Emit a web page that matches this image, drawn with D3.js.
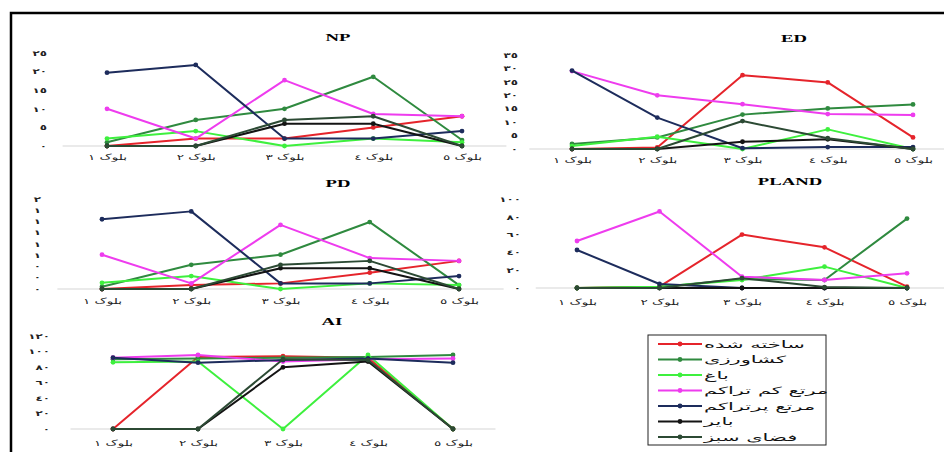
<!DOCTYPE html>
<html><head><meta charset="utf-8">
<script src="https://cdn.jsdelivr.net/npm/d3@7"></script>
<style>
html,body{margin:0;padding:0;background:#fff;}
svg{display:block;}
text{font-family:"DejaVu Sans",sans-serif;}
</style></head>
<body>
<svg id="chart" width="944" height="452"></svg>
<script>
// ---------------- DATA ----------------
const categories = ["بلوک ١","بلوک ٢","بلوک ٣","بلوک ٤","بلوک ٥"];
const seriesNames = ["ساخته شده","کشاورزی","باغ","مرتع کم تراکم","مرتع پرتراکم","بایر","فضای سبز"];
const seriesColors = ["#e5242b","#2f8a3f","#3ef03e","#ee3cee","#1d2c5c","#141414","#2c4a34"];

// values per series (same order as seriesNames), one value per block
const npValues = [
  [0,2,2,5,8],
  [1,7,10,18.6,1.6],
  [2,4,0,2,1],
  [10,2,17.7,8.6,8],
  [19.7,21.8,2,2,4],
  [0,0,6,6,0],
  [0,0,7,8,0]
];
const edValues = [
  [0,0.6,27.5,24.8,4.3],
  [1.9,4.3,12.8,15.1,16.6],
  [1.1,4.6,0,7.3,0],
  [29,20,16.7,13,12.7],
  [29.2,11.7,0.3,0.7,0.7],
  [0,0,2.7,3.6,0],
  [0,0,10.4,4,0]
];
const pdValues = [
  [0,0.07,0.1,0.29,0.5],
  [0.04,0.43,0.61,1.19,0.07],
  [0.11,0.23,0,0.1,0.07],
  [0.61,0.1,1.14,0.55,0.5],
  [1.24,1.38,0.1,0.1,0.23],
  [0,0,0.37,0.37,0],
  [0,0,0.43,0.5,0]
];
const plandValues = [
  [0,1.5,60,45.7,1.5],
  [0,1,10,9,78],
  [0,1.5,9,24,0],
  [52.8,86,12.7,9,16.5],
  [42.7,4.5,0,0,0],
  [0,0,0,0,0],
  [0,0,11,1,0]
];
const aiValues = [
  [0,93,94,92,0],
  [90,91,92,93,95.5],
  [86,87,0,95.5,0],
  [92,95.5,87,90,91],
  [92,85.6,89,91,85.6],
  [0,0,79.6,87,0],
  [0,0,90,89,0]
];

const npTicks = [0,5,10,15,20,25];
const edTicks = [0,5,10,15,20,25,30,35];
const pdTicks = [0,0.2,0.4,0.6,0.8,1.0,1.2,1.4,1.6];
const plandTicks = [0,20,40,60,80,100];
const aiTicks = [0,20,40,60,80,100,120];

const panelTitles = ["NP","ED","PD","PLAND","AI"];

// ---------------- LAYOUT ----------------
const SX = 1.7; // horizontal stretch of the source image text
const svg = d3.select("#chart");

svg.append("rect").attr("x",11).attr("y",13).attr("width",1000).attr("height",1000)
  .attr("fill","none").attr("stroke","#000").attr("stroke-width",2.5);

const arDigits = "٠١٢٣٤٥٦٧٨٩";
const toAr = s => String(s).replace(/[0-9]/g, d => arDigits[+d]);

const panels = [
  {title:panelTitles[0], values:npValues, ticks:npTicks, fmt:d=>toAr(d),
   x0:107, x1:462, y0:146, y1:53, tickX:47, labY:157, tx:338, ty:41},
  {title:panelTitles[1], values:edValues, ticks:edTicks, fmt:d=>toAr(d),
   x0:572, x1:913, y0:149, y1:55, tickX:518, labY:160, tx:794, ty:42},
  {title:panelTitles[2], values:pdValues, ticks:pdTicks, fmt:d=>toAr(Math.round(d)),
   x0:102, x1:459, y0:289, y1:199, tickX:41, labY:301, tx:338, ty:187},
  {title:panelTitles[3], values:plandValues, ticks:plandTicks, fmt:d=>toAr(d),
   x0:577, x1:907, y0:288, y1:199, tickX:521, labY:302, tx:790, ty:185},
  {title:panelTitles[4], values:aiValues, ticks:aiTicks, fmt:d=>toAr(d),
   x0:113, x1:453, y0:429, y1:336, tickX:50, labY:443, tx:332, ty:325}
];

panels.forEach(p => {
  const g = svg.append("g");
  const x = d3.scalePoint().domain(categories).range([p.x0, p.x1]);
  const y = d3.scaleLinear().domain([p.ticks[0], p.ticks[p.ticks.length-1]]).range([p.y0, p.y1]);
  const step = x.step();

  // baseline
  g.append("line").attr("x1", p.x0 - step*0.5).attr("x2", p.x1 + step*0.5)
    .attr("y1", y(0)).attr("y2", y(0)).attr("stroke","#d6d6d6").attr("stroke-width",1.2);

  // title
  g.append("text").attr("transform",`translate(${p.tx},${p.ty}) scale(${SX},1)`)
    .attr("text-anchor","middle").style("font-family","'Liberation Serif',serif")
    .style("font-weight","bold").style("font-size","11px").text(p.title);

  // y axis
  const ya = g.append("g").attr("transform",`translate(${p.tickX},0)`)
    .call(d3.axisLeft(y).tickValues(p.ticks).tickSize(0).tickPadding(0).tickFormat(p.fmt));
  ya.select(".domain").remove();
  ya.selectAll("text").attr("x",0).attr("transform",`scale(${SX},1)`)
    .style("font-family","'DejaVu Sans',sans-serif").style("font-size","7px").style("font-weight","bold").attr("fill","#222");

  // x axis
  const xa = g.append("g").attr("transform",`translate(0,${p.labY})`)
    .call(d3.axisBottom(x).tickSize(0).tickPadding(0));
  xa.select(".domain").remove();
  xa.selectAll("text").attr("y",0).attr("dy","0.35em").attr("transform",`scale(${SX},1)`)
    .style("font-family","'DejaVu Sans',sans-serif").style("font-size","8px").attr("fill","#222");

  // series
  const line = d3.line().x((d,i)=>x(categories[i])).y(d=>y(d));
  p.values.forEach((vals, si) => {
    g.append("path").attr("d", line(vals)).attr("fill","none")
      .attr("stroke", seriesColors[si]).attr("stroke-width",2).attr("stroke-linejoin","round");
    g.selectAll(null).data(vals).enter().append("circle")
      .attr("cx",(d,i)=>x(categories[i])).attr("cy",d=>y(d)).attr("r",2.4)
      .attr("fill", seriesColors[si]);
  });
});

// ---------------- LEGEND ----------------
const lg = svg.append("g");
lg.append("rect").attr("x",648).attr("y",335).attr("width",178).attr("height",110)
  .attr("fill","#fff").attr("stroke","#222").attr("stroke-width",1);
const ly = d3.scalePoint().domain(seriesNames).range([344,437]);
seriesNames.forEach((name, i) => {
  const yy = ly(name);
  lg.append("line").attr("x1",658).attr("x2",702).attr("y1",yy).attr("y2",yy)
    .attr("stroke",seriesColors[i]).attr("stroke-width",2);
  lg.append("circle").attr("cx",680).attr("cy",yy).attr("r",2.4).attr("fill",seriesColors[i]);
  lg.append("text").attr("transform",`translate(704,${yy}) scale(2.1,1)`)
    .attr("dy","0.35em").attr("text-anchor","start")
    .style("font-size","10px").attr("fill","#111").text(name);
});
</script>
</body></html>
